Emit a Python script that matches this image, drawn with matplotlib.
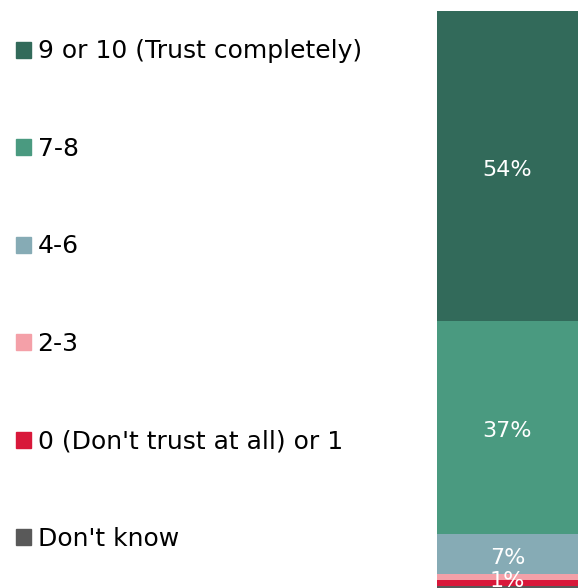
import matplotlib.pyplot as plt
from matplotlib.patches import Patch

plt.rcParams['font.family'] = ['DejaVu Sans']

categories = ['9 or 10 (Trust completely)', '7-8', '4-6', '2-3',
              "0 (Don't trust at all) or 1", "Don't know"]
shares = [54, 37, 7, 1, 1, 0.4]
bar_labels = ['54%', '37%', '7%', '1%', '', '']
colors = ['#326a5a', '#4a9a80', '#86abb5', '#f4a0a8', '#d8183a', '#595959']

fig = plt.figure(figsize=(5.78, 5.88), dpi=100)
ax = fig.add_axes([437 / 578, 0, 141 / 578, 577 / 588])

# stack from the bottom: don't know, then 0-1, up to 9-10 on top
bottom = 0
for cat, val, lab, col in reversed(list(zip(categories, shares, bar_labels, colors))):
    ax.bar(0, val, bottom=bottom, width=1, color=col, label=cat)
    if lab:
        ax.text(0, bottom + val / 2 - 0.6, lab, ha='center', va='center',
                color='white', fontsize=16)
    bottom += val

ax.set_xlim(-0.5, 0.5)
ax.set_ylim(0, bottom)
ax.axis('off')

handles = [Patch(color=c) for c in colors]
fig.legend(handles, categories, loc='upper left', bbox_to_anchor=(0.027, 0.933),
           frameon=False, fontsize=18, handlelength=0.6, handleheight=0.6,
           handletextpad=0.28, labelspacing=2.94, borderpad=0, borderaxespad=0)

fig.savefig('out.png', dpi=100)
